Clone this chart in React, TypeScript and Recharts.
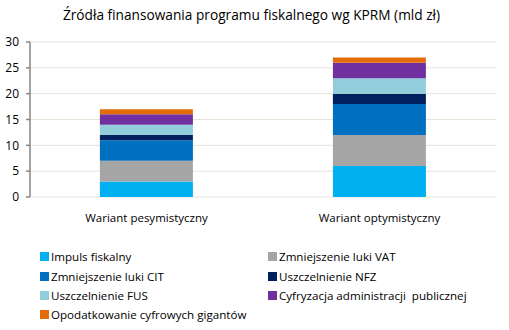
import React from 'react';
import { BarChart, Bar, XAxis, YAxis, CartesianGrid } from 'recharts';

const categories = ['Wariant pesymistyczny', 'Wariant optymistyczny'];
const impulsFiskalny = [3, 6];
const lukaVat = [4, 6];
const lukaCit = [4, 6];
const uszczelnienieNfz = [1, 2];
const uszczelnienieFus = [2, 3];
const cyfryzacja = [2, 3];
const giganci = [1, 1];
const yTicks = [0, 5, 10, 15, 20, 25, 30];

const seriesDefs = [
  { key: 'impuls', name: 'Impuls fiskalny', values: impulsFiskalny, color: '#00B0F0' },
  { key: 'vat', name: 'Zmniejszenie luki VAT', values: lukaVat, color: '#A5A5A5' },
  { key: 'cit', name: 'Zmniejszenie luki CIT', values: lukaCit, color: '#0070C0' },
  { key: 'nfz', name: 'Uszczelnienie NFZ', values: uszczelnienieNfz, color: '#002060' },
  { key: 'fus', name: 'Uszczelnienie FUS', values: uszczelnienieFus, color: '#92CDDC' },
  { key: 'cyfr', name: 'Cyfryzacja administracji  publicznej', values: cyfryzacja, color: '#7030A0' },
  { key: 'gig', name: 'Opodatkowanie cyfrowych gigantów', values: giganci, color: '#E36C09' },
];

const data = categories.map((c, i) => {
  const row: Record<string, string | number> = { category: c };
  seriesDefs.forEach((s) => {
    row[s.key] = s.values[i];
  });
  return row;
});

const FONT = 'Open Sans, Noto Sans, sans-serif';

export default function App() {
  return (
    <div style={{ position: 'absolute', left: 0, top: 0, width: 509, height: 330, background: '#fff', fontFamily: FONT }}>
      <div
        style={{
          position: 'absolute',
          left: 0,
          top: 5,
          width: 503,
          textAlign: 'center',
          fontSize: 13.7,
          color: '#000',
          whiteSpace: 'nowrap',
        }}
      >
        Źródła finansowania programu fiskalnego wg KPRM (mld zł)
      </div>
      <BarChart
        width={509}
        height={330}
        data={data}
        margin={{ top: 42, right: 13, left: 0, bottom: 113 }}
        barCategoryGap="30%"
      >
        <CartesianGrid vertical={false} stroke="#E6E4D8" strokeWidth={1} />
        <XAxis
          xAxisId="frame"
          type="number"
          domain={[0, 2]}
          ticks={[0, 1, 2]}
          tick={false}
          height={0}
          axisLine={{ stroke: '#868686', strokeWidth: 1.5 }}
          tickLine={{ stroke: '#868686', strokeWidth: 1.5 }}
          tickSize={5}
          allowDataOverflow
        />
        <XAxis
          xAxisId="cat"
          dataKey="category"
          axisLine={false}
          tickLine={false}
          height={20}
          tickMargin={11}
          tick={{ fill: '#000', fontSize: 11.5, fontFamily: FONT }}
        />
        <YAxis
          domain={[0, 30]}
          ticks={yTicks}
          width={30}
          tickSize={4}
          tickMargin={7}
          axisLine={{ stroke: '#868686', strokeWidth: 1.5 }}
          tickLine={{ stroke: '#868686', strokeWidth: 1.5 }}
          tick={{ fill: '#000', fontSize: 12, fontFamily: FONT }}
        />
        {seriesDefs.map((s) => (
          <Bar
            key={s.key}
            xAxisId="cat"
            dataKey={s.key}
            name={s.name}
            stackId="a"
            fill={s.color}
            isAnimationActive={false}
          />
        ))}
      </BarChart>
      <div
        style={{
          position: 'absolute',
          left: 40,
          top: 247,
          width: 460,
          display: 'grid',
          gridTemplateColumns: '228px 232px',
          rowGap: 0,
        }}
      >
        {seriesDefs.map((s) => (
          <div key={s.key} style={{ display: 'flex', alignItems: 'center', height: 19.4, fontSize: 11.6, color: '#000', whiteSpace: 'pre' }}>
            <span style={{ display: 'inline-block', width: 9, height: 9, background: s.color, marginRight: 2 }} />
            {s.name}
          </div>
        ))}
      </div>
    </div>
  );
}
